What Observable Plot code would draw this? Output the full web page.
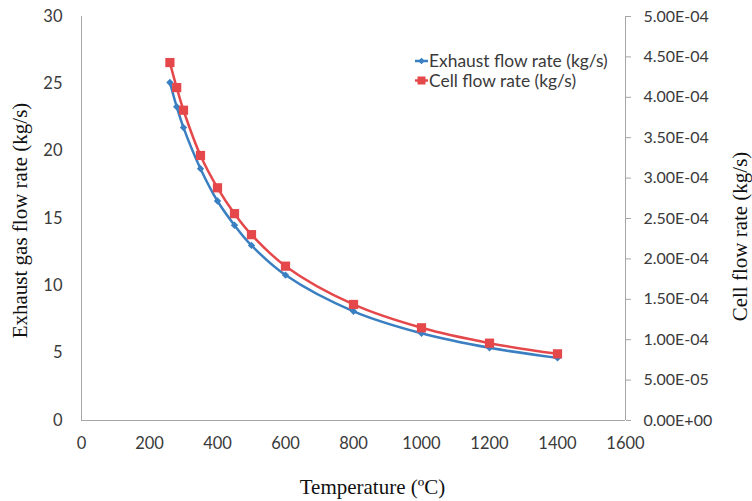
<!DOCTYPE html>
<html>
<head>
<meta charset="utf-8">
<script src="https://cdn.jsdelivr.net/npm/d3@7"></script>
<script src="https://cdn.jsdelivr.net/npm/@observablehq/plot@0.6"></script>
<style>
  html, body { margin: 0; padding: 0; background: #fff; }
  #chart { width: 752px; height: 501px; }
</style>
</head>
<body>
<div id="chart"></div>
<script>
// ---- data ----
const temperature = [260, 280, 300, 350, 400, 450, 500, 600, 800, 1000, 1200, 1400];
const exhaustFlow = [25.1, 23.3, 21.75, 18.7, 16.3, 14.5, 13.0, 10.8, 8.11, 6.48, 5.4, 4.65];
const cellFlow = [4.43e-4, 4.12e-4, 3.84e-4, 3.28e-4, 2.88e-4, 2.56e-4, 2.30e-4, 1.91e-4, 1.436e-4, 1.147e-4, 0.957e-4, 0.825e-4];

const xTicks = [0, 200, 400, 600, 800, 1000, 1200, 1400, 1600];
const leftTicks = [0, 5, 10, 15, 20, 25, 30];
const rightTicks = [0, 5e-5, 1e-4, 1.5e-4, 2e-4, 2.5e-4, 3e-4, 3.5e-4, 4e-4, 4.5e-4, 5e-4];
const rightTickLabels = ["0.00E+00", "5.00E-05", "1.00E-04", "1.50E-04", "2.00E-04", "2.50E-04", "3.00E-04", "3.50E-04", "4.00E-04", "4.50E-04", "5.00E-04"];

const seriesNames = ["Exhaust flow rate (kg/s)", "Cell flow rate (kg/s)"];
const xTitle = "Temperature (ºC)";
const yLeftTitle = "Exhaust gas flow rate (kg/s)";
const yRightTitle = "Cell flow rate (kg/s)";

const leftMax = 30, rightMax = 5e-4;
const k = leftMax / rightMax; // right-axis values mapped onto left scale

const blue = "#3a7fc1";
const red = "#e5484b";
const axisColor = "#a6a6a6";
const tickFont = "Lato, 'Open Sans', sans-serif";
const titleFont = "'Liberation Serif', 'DejaVu Serif', serif";

const exhaustData = temperature.map((t, i) => ({t, v: exhaustFlow[i]}));
const cellData = temperature.map((t, i) => ({t, v: cellFlow[i] * k}));

const rightTickScaled = rightTicks.map(v => v * k);
const rightLabelMap = new Map(rightTickScaled.map((v, i) => [v, rightTickLabels[i]]));

const chart = Plot.plot({
  width: 752,
  height: 501,
  marginLeft: 81,
  marginRight: 127,
  marginTop: 16,
  marginBottom: 81,
  style: {fontFamily: tickFont, fontSize: "16px", color: "#3a3a3a", background: "#fff", overflow: "visible"},
  x: {domain: [0, 1600]},
  y: {domain: [0, leftMax]},
  marks: [
    Plot.axisX({ticks: xTicks, tickFormat: d => String(d), tickSize: 0, tickPadding: 17, label: null, fontSize: 16.5}),
    Plot.axisY({anchor: "left", ticks: leftTicks, tickSize: 0, tickPadding: 19, label: null, fontSize: 16.5}),
    Plot.axisY({anchor: "right", ticks: rightTickScaled, tickFormat: d => rightLabelMap.get(d), tickSize: 5, stroke: axisColor, tickPadding: 13, label: null, fontSize: 16}),
    Plot.ruleX([0, 1600], {stroke: axisColor, strokeWidth: 1}),
    Plot.ruleY([0], {stroke: axisColor, strokeWidth: 1}),
    Plot.line(exhaustData, {x: "t", y: "v", stroke: blue, strokeWidth: 2.5, curve: "catmull-rom"}),
    Plot.dot(exhaustData, {x: "t", y: "v", symbol: "diamond2", r: 3.3, fill: blue, stroke: "none"}),
    Plot.line(cellData, {x: "t", y: "v", stroke: red, strokeWidth: 2.5, curve: "catmull-rom"}),
    Plot.dot(cellData, {x: "t", y: "v", symbol: "square", r: 5.2, fill: red, stroke: "none"}),
    Plot.text([xTitle], {frameAnchor: "bottom", dx: 19, dy: 67, text: d => d, textAnchor: "middle", fontFamily: titleFont, fontSize: 21, fill: "#111", lineAnchor: "middle"}),
    Plot.text([yLeftTitle], {frameAnchor: "left", dx: -61, dy: 2, rotate: -90, text: d => d, textAnchor: "middle", fontFamily: titleFont, fontSize: 21, fill: "#111", lineAnchor: "middle"}),
    Plot.text([yRightTitle], {frameAnchor: "right", dx: 115, dy: 18, rotate: -90, text: d => d, textAnchor: "middle", fontFamily: titleFont, fontSize: 21, fill: "#111", lineAnchor: "middle"})
  ]
});

// legend
const svg = d3.select(chart);
const legendColors = [blue, red];
const legend = svg.append("g").attr("transform", "translate(415,61)").attr("text-anchor", "start");
seriesNames.forEach((name, i) => {
  const g = legend.append("g").attr("transform", `translate(0,${i * 19.5})`);
  g.append("line").attr("x1", 0).attr("x2", 13).attr("y1", 0).attr("y2", 0)
    .attr("stroke", legendColors[i]).attr("stroke-width", 2.5);
  if (i === 0) {
    g.append("path").attr("d", d3.symbol(d3.symbolDiamond2, 28)()).attr("transform", "translate(6.5,0)").attr("fill", blue);
  } else {
    g.append("rect").attr("x", 2.5).attr("y", -4).attr("width", 8).attr("height", 8).attr("fill", red);
  }
  g.append("text").attr("x", 14).attr("y", 0).attr("dy", "0.35em").attr("text-anchor", "start")
    .attr("font-family", tickFont).attr("font-size", 17.4).attr("fill", "#3a3a3a").text(name);
});

document.getElementById("chart").appendChild(chart);
</script>
</body>
</html>
